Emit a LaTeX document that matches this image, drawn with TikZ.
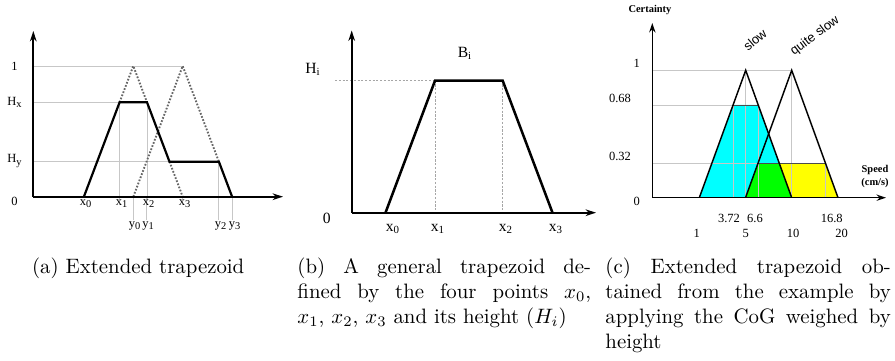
\documentclass[tikz,border=0pt]{standalone}
\usepackage{fontspec}
\newfontfamily\tms{Liberation Serif}
\newfontfamily\arl{Liberation Sans}
\usetikzlibrary{arrows.meta}
\definecolor{cyanfill}{RGB}{0,255,255}
\definecolor{greenfill}{RGB}{0,255,0}
\definecolor{yellowfill}{RGB}{255,255,0}
\begin{document}
\begin{tikzpicture}[x=0.48pt,y=-0.48pt,
  axisarr/.style={line width=0.95pt,-{Stealth[length=5pt,width=3.2pt]}},
  axisc/.style={line width=0.75pt,-{Stealth[length=4.5pt,width=3pt]}},
  guide/.style={draw=black!22,line width=0.45pt},
  dguide/.style={draw=black!35,line width=0.45pt,dash pattern=on 1pt off 0.8pt},
  dotl/.style={draw=black!60,line width=0.9pt,dash pattern=on 0.8pt off 0.8pt},
  trap/.style={line width=1.05pt,line join=miter},
  trapb/.style={line width=1.2pt,line join=miter},
  triline/.style={line width=0.7pt,line join=miter},
  laba/.style={inner sep=0pt,font=\tms\fontsize{6}{7}\selectfont},
  labb/.style={inner sep=0pt,font=\tms\fontsize{7.5}{9}\selectfont},
  labc/.style={inner sep=0pt,font=\tms\fontsize{6}{7}\selectfont},
  boldlab/.style={inner sep=0pt,font=\tms\bfseries\fontsize{5}{6}\selectfont},
  rotlab/.style={inner sep=0pt,font=\arl\fontsize{6.2}{7}\selectfont},
  captxt/.style={inner sep=0pt,anchor=base west}]
\useasboundingbox (0,0) rectangle (895,361);

% ---------------- panel (a) ----------------
\draw[guide] (33.3,66) -- (182.7,66);
\draw[guide] (33.3,102.3) -- (119.6,102.3);
\draw[guide] (33.3,161.7) -- (169.5,161.7);
\draw[guide] (119.6,102.3) -- (119.6,200);
\draw[guide] (147,102.3) -- (147,200);
\draw[guide] (133.3,196.7) -- (133.3,220);
\draw[guide] (146.5,196.7) -- (146.5,220);
\draw[guide] (182.7,196.7) -- (182.7,200);
\draw[guide] (218.9,161.7) -- (218.9,220);
\draw[guide] (232.1,196.7) -- (232.1,220);
\draw[dotl] (119.6,102.3) -- (133.3,66) -- (147,102.3);
\draw[dotl] (169.5,161.7) -- (182.7,196.7);
\draw[dotl] (133.3,196.7) -- (182.7,66) -- (218.9,161.7);
\draw[trap] (83.9,196.7) -- (119.6,102.3) -- (147,102.3) -- (169.5,161.7)
  -- (218.9,161.7) -- (232.1,196.7);
\draw[axisarr] (33.3,196.7) -- (33.3,31);
\draw[axisarr] (33.3,196.7) -- (283,196.7);
\node[laba] (a1) at (14.5,66.7) {1};
\node[laba] (ahx) at (15,102) {H\textsubscript{x}};
\node[laba] (ahy) at (15,161) {H\textsubscript{y}};
\node[laba] (a0) at (14.5,201) {0};
\node[laba,anchor=north] (ax0) at (86,199) {x\textsubscript{0}};
\node[laba,anchor=north] (ax1) at (122,199) {x\textsubscript{1}};
\node[laba,anchor=north] (ax2) at (149,199) {x\textsubscript{2}};
\node[laba,anchor=north] (ax3) at (185,199) {x\textsubscript{3}};
\node[laba,anchor=north] (ay0) at (135,221) {y\textsubscript{0}};
\node[laba,anchor=north] (ay1) at (148.5,221) {y\textsubscript{1}};
\node[laba,anchor=north] (ay2) at (221,221) {y\textsubscript{2}};
\node[laba,anchor=north] (ay3) at (235,221) {y\textsubscript{3}};

% ---------------- panel (b) ----------------
\draw[dguide] (335,80.7) -- (435,80.7);
\draw[dguide] (435,80.7) -- (435,212.7);
\draw[dguide] (502.7,80.7) -- (502.7,212.7);
\draw[trapb] (385.5,212.7) -- (435,80.7) -- (502.7,80.7) -- (552.5,212.7);
\draw[axisarr] (351.7,212.7) -- (351.7,30.5);
\draw[axisarr] (351.7,212.7) -- (596,212.7);
\node[labb] (bh) at (313,69) {H\textsubscript{i}};
\node[labb] (bb) at (465,53) {B\textsubscript{i}};
\node[labb] (b0) at (326.7,218.3) {0};
\node[labb] (bx0) at (393,229) {x\textsubscript{0}};
\node[labb] (bx1) at (438,229) {x\textsubscript{1}};
\node[labb] (bx2) at (506,229) {x\textsubscript{2}};
\node[labb] (bx3) at (556,229) {x\textsubscript{3}};

% ---------------- panel (c) ----------------
\fill[cyanfill] (699.3,197.7) -- (733.1,105) -- (758.3,105) -- (791.7,197.7) -- cycle;
\fill[yellowfill] (745.5,197.7) -- (758,163.3) -- (825.4,163.3) -- (838,197.7) -- cycle;
\fill[greenfill] (745.5,197.7) -- (758,163.3) -- (779.4,163.3) -- (791.7,197.7) -- cycle;
\draw[guide] (652.3,70.3) -- (791.7,70.3);
\draw[guide] (652.3,105) -- (758.3,105);
\draw[guide] (652.3,163.3) -- (825.4,163.3);
\draw[guide] (733.1,105) -- (733.1,197.7);
\draw[guide] (745.7,70.3) -- (745.7,197.7);
\draw[guide] (758.3,105) -- (758.3,197.7);
\draw[guide] (791.7,70.3) -- (791.7,197.7);
\draw[guide] (825.4,163.3) -- (825.4,197.7);
\draw[line width=0.4pt,black!70] (733.1,105) -- (758.3,105);
\draw[line width=0.4pt,black!70] (758,163.3) -- (825.4,163.3);
\draw[triline] (699.3,197.7) -- (745.7,70.3) -- (791.7,197.7);
\draw[triline] (745.5,197.7) -- (791.7,70.3) -- (838,197.7);
\draw[axisc] (652.3,197.7) -- (652.3,23);
\draw[axisc] (652.3,197.7) -- (886,197.7);
\node[boldlab] (ccert) at (650,10) {Certainty};
\node[boldlab] (cspeed) at (875,170) {Speed};
\node[boldlab] (cunit) at (875,183.3) {(cm/s)};
\node[labc] (c1) at (636.7,63.5) {1};
\node[labc] (c68) at (620,98.3) {0.68};
\node[labc] (c32) at (620,156.7) {0.32};
\node[labc] (c0) at (636.7,201.7) {0};
\node[labc] (c372) at (729,218.3) {3.72};
\node[labc] (c66) at (755,218.3) {6.6};
\node[labc] (c168) at (831.7,218.3) {16.8};
\node[labc] (cv1) at (696.7,233.3) {1};
\node[labc] (cv5) at (745.7,233.3) {5};
\node[labc] (cv10) at (793,233.3) {10};
\node[labc] (cv20) at (841.7,233.3) {20};
\node[rotlab,rotate=40] (cslow) at (755,40) {slow};
\node[rotlab,rotate=37] (cqslow) at (815,36) {quite slow};

% ---------------- captions ----------------
\node[captxt] (capa) at (31.7,273.3) {(a) Extended trapezoid};
\node[captxt] (capb) at (297,273.3) {\parbox[t]{141pt}{(b) A general trapezoid de-\linebreak fined by the four points $x_0$,\linebreak $x_1$, $x_2$, $x_3$ and its height $(H_i)$}};
\node[captxt] (capc) at (605,273.3) {\parbox[t]{137pt}{(c) Extended trapezoid ob-\linebreak tained from the example by\linebreak applying the CoG weighed by\linebreak height}};
\end{tikzpicture}
\end{document}
